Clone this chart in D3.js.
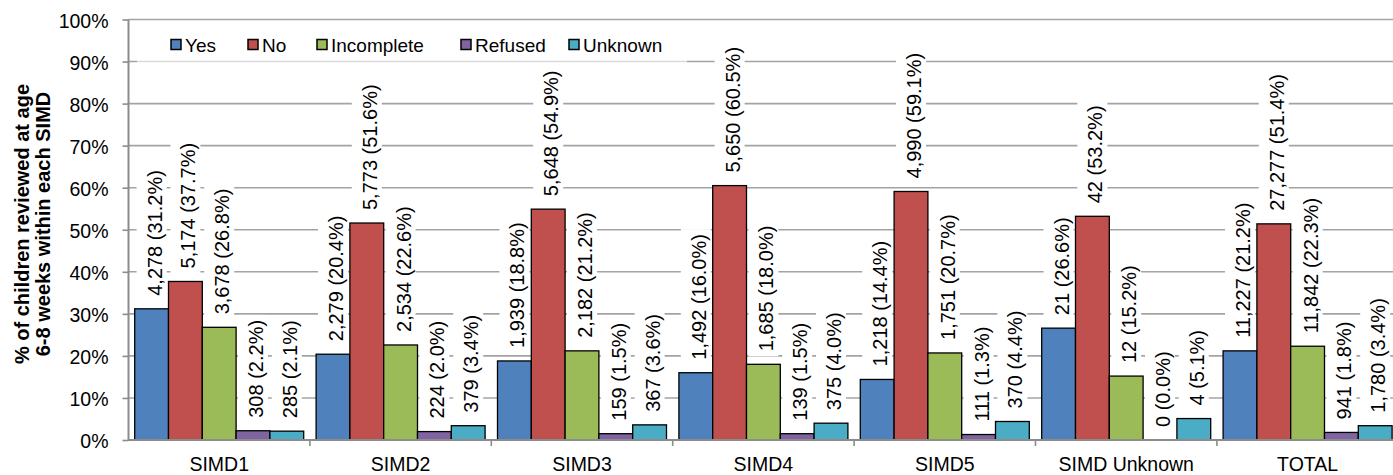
<!DOCTYPE html>
<html><head><meta charset="utf-8">
<script src="https://cdn.jsdelivr.net/npm/d3@7"></script>
<style>
body{margin:0;background:#fff}
svg{display:block}
text{font-family:"Liberation Sans",Arial,Helvetica,sans-serif;fill:#000}
</style>
</head><body>
<svg id="chart" width="1393" height="475"></svg>
<script>
// ---- data ----
const categories = ["SIMD1","SIMD2","SIMD3","SIMD4","SIMD5","SIMD Unknown","TOTAL"];
const seriesNames = ["Yes","No","Incomplete","Refused","Unknown"];
const countsYes        = [4278, 2279, 1939, 1492, 1218, 21, 11227];
const pctYes           = [31.2, 20.4, 18.8, 16.0, 14.4, 26.6, 21.2];
const countsNo         = [5174, 5773, 5648, 5650, 4990, 42, 27277];
const pctNo            = [37.7, 51.6, 54.9, 60.5, 59.1, 53.2, 51.4];
const countsIncomplete = [3678, 2534, 2182, 1685, 1751, 12, 11842];
const pctIncomplete    = [26.8, 22.6, 21.2, 18.0, 20.7, 15.2, 22.3];
const countsRefused    = [308, 224, 159, 139, 111, 0, 941];
const pctRefused       = [2.2, 2.0, 1.5, 1.5, 1.3, 0.0, 1.8];
const countsUnknown    = [285, 379, 367, 375, 370, 4, 1780];
const pctUnknown       = [2.1, 3.4, 3.6, 4.0, 4.4, 5.1, 3.4];
const yTickValues = [0,10,20,30,40,50,60,70,80,90,100];
const yAxisTitle = ["% of children reviewed  at age", "6-8 weeks within each SIMD"];

const seriesCounts = [countsYes, countsNo, countsIncomplete, countsRefused, countsUnknown];
const seriesPct = [pctYes, pctNo, pctIncomplete, pctRefused, pctUnknown];
const colors = ["#4f81bd","#c0504d","#9bbb59","#8064a2","#4bacc6"];

// ---- layout ----
const plotLeft = 128.5, catW = 181.4;
const plotRight = plotLeft + catW * categories.length;
const yBottom = 440, yTop = 19.5;
const gridColor = "#a3a3a3", axisColor = "#8c8c8c";

const svg = d3.select("#chart");
const x0 = d3.scaleBand().domain(categories).range([plotLeft, plotRight]).padding(0);
const x1 = d3.scaleBand().domain(seriesNames).range([6.2, catW - 6.2]).padding(0);
const y = d3.scaleLinear().domain([0, 100]).range([yBottom, yTop]);
const fmt = d3.format(",");

const data = [];
categories.forEach((c, i) => {
  seriesNames.forEach((s, j) => {
    data.push({cat: c, ser: s, j, count: seriesCounts[j][i], pct: seriesPct[j][i]});
  });
});

// gridlines
svg.append("g").selectAll("line").data(yTickValues.filter(v => v > 0)).join("line")
  .attr("x1", plotLeft).attr("x2", 1393)
  .attr("y1", d => y(d)).attr("y2", d => y(d))
  .attr("stroke", gridColor).attr("stroke-width", 1.6);

// legend background (semi-opaque)
const legendX = [171, 248, 317, 461, 569];
svg.append("rect").attr("x", 137).attr("y", 26).attr("width", 550).attr("height", 37.5)
  .attr("fill", "#fff").attr("fill-opacity", 0.6);

// label boxes + labels
const labelG = svg.append("g");
const labels = labelG.selectAll("g").data(data).join("g");
const boxes = labels.append("rect").attr("fill", "#fff");
const texts = labels.append("text")
  .attr("font-size", 20)
  .attr("text-anchor", "start")
  .attr("dy", "0.35em")
  .text(d => `${fmt(d.count)} (${d.pct.toFixed(1)}%)`);
texts.each(function(d) {
  const len = this.getComputedTextLength();
  const cx = x0(d.cat) + x1(d.ser) + x1.bandwidth() / 2;
  const yStart = y(d.pct) - 13;
  d3.select(this).attr("transform", `translate(${cx + 3},${yStart}) rotate(-90)`);
  d3.select(this.previousSibling)
    .attr("x", cx - 15).attr("width", 30)
    .attr("y", yStart - len - 5).attr("height", len + 10);
});

// bars
svg.append("g").selectAll("rect").data(data.filter(d => d.pct > 0)).join("rect")
  .attr("x", d => x0(d.cat) + x1(d.ser))
  .attr("width", x1.bandwidth())
  .attr("y", d => y(d.pct))
  .attr("height", d => yBottom - y(d.pct))
  .attr("fill", d => colors[d.j])
  .attr("stroke", "#000").attr("stroke-width", 1.3);

// y axis
const yAxis = svg.append("g").attr("transform", `translate(${plotLeft},0)`)
  .call(d3.axisLeft(y).tickValues(yTickValues).tickSize(6).tickPadding(14).tickFormat(d => d + "%"));
yAxis.select(".domain").remove();
yAxis.selectAll(".tick line").attr("stroke", axisColor).attr("stroke-width", 1.6);
yAxis.selectAll(".tick text").attr("font-size", 19.5).attr("font-family", '"Liberation Sans",Arial,sans-serif')
  .attr("dy", "0.4em").attr("fill", "#000");
svg.append("line").attr("x1", plotLeft).attr("x2", plotLeft).attr("y1", yTop).attr("y2", yBottom + 1)
  .attr("stroke", axisColor).attr("stroke-width", 2);

// x axis
const xAxis = svg.append("g").attr("transform", `translate(0,${yBottom})`)
  .call(d3.axisBottom(x0).tickSize(0).tickPadding(17));
xAxis.select(".domain").remove();
xAxis.selectAll(".tick text").attr("font-size", 19.5).attr("font-family", '"Liberation Sans",Arial,sans-serif')
  .attr("fill", "#000");
svg.append("line").attr("x1", plotLeft).attr("x2", 1393).attr("y1", yBottom).attr("y2", yBottom)
  .attr("stroke", axisColor).attr("stroke-width", 2);
svg.append("g").selectAll("line").data(categories.slice(1).map(c => x0(c))).join("line")
  .attr("x1", d => d).attr("x2", d => d).attr("y1", yBottom).attr("y2", yBottom + 6)
  .attr("stroke", axisColor).attr("stroke-width", 1.6);

// y axis title
const title = svg.append("text").attr("transform", "translate(32,224) rotate(-90)")
  .attr("text-anchor", "middle").attr("font-size", 20).attr("font-weight", "bold");
yAxisTitle.forEach((t, i) => {
  title.append("tspan").attr("x", 0).attr("y", i === 0 ? -3 : 18).text(t);
});

// legend
const legend = svg.append("g").selectAll("g").data(seriesNames).join("g")
  .attr("transform", (d, i) => `translate(${legendX[i]},45)`);
legend.append("rect").attr("x", 0).attr("y", -5.5).attr("width", 10).attr("height", 10)
  .attr("fill", (d, i) => colors[i]).attr("stroke", "#000").attr("stroke-width", 1.5);
legend.append("text").attr("x", 14).attr("dy", "0.36em").attr("font-size", 19).text(d => d);
</script>
</body></html>
